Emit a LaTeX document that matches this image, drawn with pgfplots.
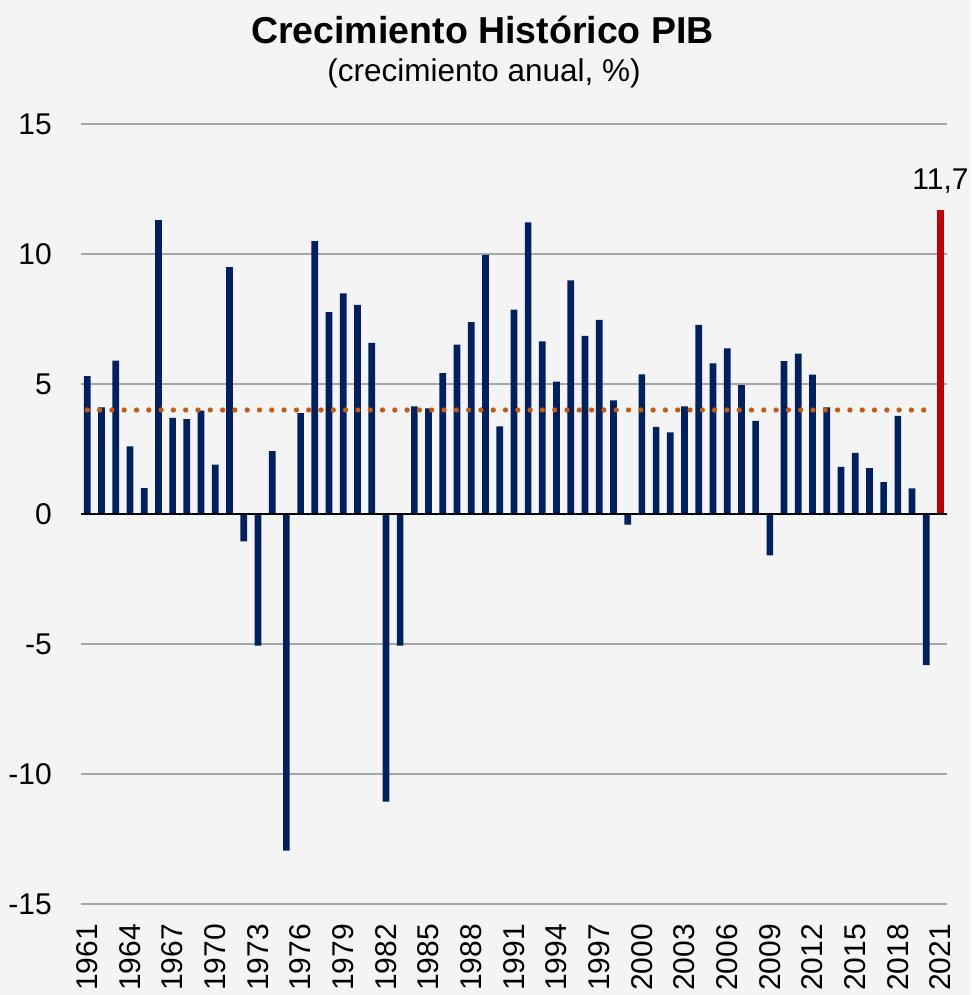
\documentclass[border=0pt]{standalone}
\usepackage{pgfplots}
\pgfplotsset{compat=1.18}
\usepackage{fontspec}
\setmainfont{Liberation Sans}
\definecolor{navy}{RGB}{0,32,96}
\definecolor{redbar}{RGB}{192,0,0}
\definecolor{avgorange}{RGB}{197,90,17}
\definecolor{bg}{RGB}{244,244,244}
\definecolor{gridgray}{RGB}{166,166,166}
\begin{document}
\begin{tikzpicture}
\fill[bg] (0pt,0pt) rectangle (971pt,-995pt);
\path[use as bounding box] (0pt,0pt) rectangle (971pt,-995pt);
\node[anchor=base, font=\fontsize{37.5}{44}\selectfont\bfseries, inner sep=0pt] at (482.5pt,-43.5pt) {Crecimiento Histórico PIB};
\node[anchor=base, font=\fontsize{31.5}{38}\selectfont, inner sep=0pt] at (484pt,-81.5pt) {(crecimiento anual, \%)};
\begin{axis}[
  at={(81pt,-904pt)}, anchor=south west,
  scale only axis, width=866pt, height=780pt,
  xmin=1960.557, xmax=2021.457,
  ymin=-15, ymax=15,
  ytick={-15,-10,-5,0,5,10,15},
  yticklabels={-15,-10,-5,0,5,10,15},
  xtick={1961,1964,...,2021},
  xticklabels={1961,1964,1967,1970,1973,1976,1979,1982,1985,1988,1991,1994,1997,2000,2003,2006,2009,2012,2015,2018,2021},
  /pgf/number format/assume math mode=true,
  ticklabel style={font=\fontsize{30}{30}\selectfont, inner sep=0pt},
  xticklabel style={rotate=90, anchor=east},
  xticklabel shift=20pt,
  yticklabel shift=29pt,
  major tick length=0pt,
  axis line style={draw=none},
  ymajorgrids,
  grid style={draw=gridgray, line width=1.5pt},
  ybar, bar width=6.7pt, /pgf/bar shift=0pt,
  clip=false,
]
\addplot[fill=navy, draw=none] coordinates {
(1961,5.3) (1962,4.1) (1963,5.9) (1964,2.6) (1965,1.0) (1966,11.3) (1967,3.7) (1968,3.65) (1969,3.98) (1970,1.9)
(1971,9.5) (1972,-1.05) (1973,-5.06) (1974,2.42) (1975,-12.95) (1976,3.88) (1977,10.5) (1978,7.76) (1979,8.49) (1980,8.04)
(1981,6.58) (1982,-11.06) (1983,-5.06) (1984,4.14) (1985,4.06) (1986,5.42) (1987,6.51) (1988,7.38) (1989,9.97) (1990,3.37)
(1991,7.86) (1992,11.22) (1993,6.64) (1994,5.09) (1995,8.99) (1996,6.85) (1997,7.47) (1998,4.37) (1999,-0.41) (2000,5.37)
(2001,3.35) (2002,3.14) (2003,4.14) (2004,7.27) (2005,5.79) (2006,6.37) (2007,4.96) (2008,3.58) (2009,-1.59) (2010,5.88)
(2011,6.17) (2012,5.36) (2013,4.10) (2014,1.81) (2015,2.35) (2016,1.76) (2017,1.23) (2018,3.77) (2019,0.99) (2020,-5.81)
};
\addplot[fill=redbar, draw=none] coordinates {(2021,11.7)};
\draw[black, line width=1.5pt] (rel axis cs:0,0.5) -- (rel axis cs:1,0.5);
\addplot[sharp plot, draw=avgorange, line width=5.3pt, line cap=round, dash pattern=on 0pt off 12.3pt] coordinates {(1961,4.0) (2020.5,4.0)};
\node[anchor=base, font=\fontsize{30}{30}\selectfont, inner sep=0pt, yshift=20pt] at (axis cs:2021,11.7) {11,7};
\end{axis}
\end{tikzpicture}
\end{document}
